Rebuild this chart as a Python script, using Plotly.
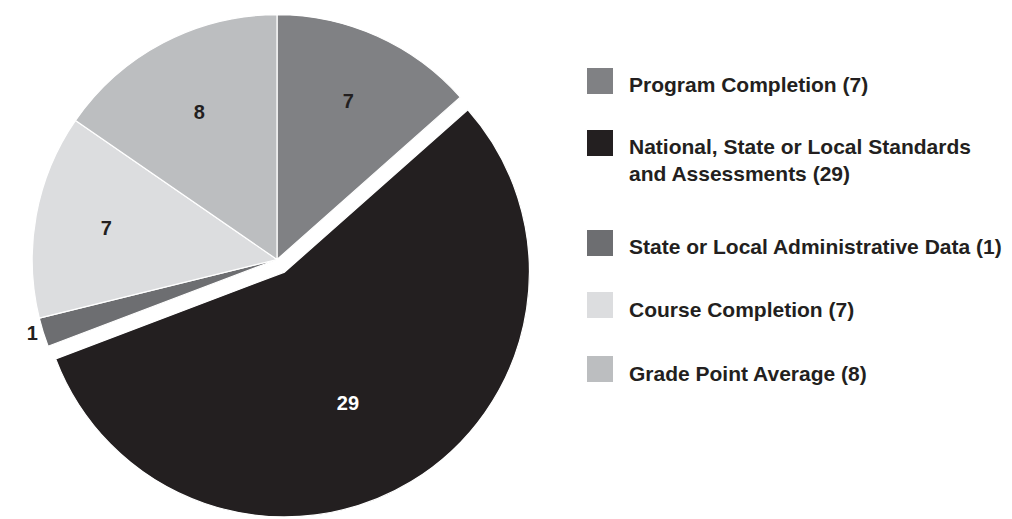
import plotly.graph_objects as go

# data
labels = [
    "Program Completion",
    "National, State or Local Standards and Assessments",
    "State or Local Administrative Data",
    "Course Completion",
    "Grade Point Average",
]
legend_text = [
    "Program Completion (7)",
    "National, State or Local Standards<br>and Assessments (29)",
    "State or Local Administrative Data (1)",
    "Course Completion (7)",
    "Grade Point Average (8)",
]
values = [7, 29, 1, 7, 8]

colors = ["#808184", "#231f20", "#6d6e71", "#dcdddf", "#bcbec0"]
text_colors = ["#231f20", "#ffffff", "#231f20", "#231f20", "#231f20"]
pulls = [0, 0.06, 0, 0, 0]
text_pos = ["inside", "inside", "outside", "inside", "inside"]
# the big slice's number sits further out in the source
templates = ["%{value}", "&nbsp;<br>&nbsp;<br>%{value}", "%{value}", "%{value}", "%{value}"]

W, H = 1012, 519
FONT = "Liberation Sans, Arial, sans-serif"
cx = 277  # pie centre, px

pie = go.Pie(
    labels=labels,
    values=values,
    sort=False,
    direction="clockwise",
    rotation=0,
    pull=pulls,
    marker=dict(colors=colors, line=dict(color="white", width=1.2)),
    texttemplate=templates,
    textposition=text_pos,
    insidetextorientation="horizontal",
    textfont=dict(family=FONT, size=20, color=text_colors, weight="bold"),
    outsidetextfont=dict(family=FONT, size=20, color="#231f20", weight="bold"),
    domain=dict(x=[(cx - H / 2) / W, (cx + H / 2) / W], y=[0, 1]),
    showlegend=False,
    hoverinfo="label+value",
)

fig = go.Figure(data=[pie])

# hand-drawn legend (irregular spacing as in the source)
square_y = [81, 143, 243, 305, 369]
text_y = [84, 160, 246, 309, 373]
sq = 26
for i, (c, t) in enumerate(zip(colors, legend_text)):
    y0 = square_y[i] - sq / 2
    fig.add_shape(
        type="rect",
        xref="paper", yref="paper",
        x0=587 / W, x1=(587 + sq) / W,
        y0=1 - (y0 + sq) / H, y1=1 - y0 / H,
        fillcolor=c, line=dict(width=0),
    )
    fig.add_annotation(
        xref="paper", yref="paper",
        x=627 / W, y=1 - text_y[i] / H,
        xanchor="left", yanchor="middle",
        text=t, showarrow=False, align="left",
        font=dict(family=FONT, size=21, color="#231f20", weight="bold"),
    )

fig.update_layout(
    width=W,
    height=H,
    autosize=False,
    margin=dict(l=0, r=0, t=0, b=0, pad=0, autoexpand=False),
    paper_bgcolor="white",
    plot_bgcolor="white",
)

fig.write_html(
    "out.html",
    config={"displayModeBar": False},
    post_script="document.body.style.margin = '0';",
)
